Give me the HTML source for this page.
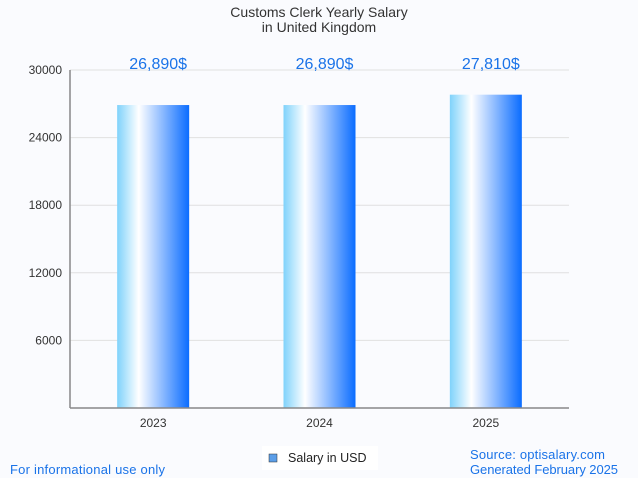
<!DOCTYPE html>
<html><head><meta charset="utf-8"><style>
body{margin:0;background:#fafbfe;font-family:"Liberation Sans",sans-serif;}
svg{display:block}
</style></head><body>
<svg id="c" width="638" height="478" xmlns="http://www.w3.org/2000/svg">
<defs>
<linearGradient id="g" x1="0" x2="1" y1="0" y2="0">
<stop offset="0" stop-color="#7fd2fb"/>
<stop offset="0.3" stop-color="#ffffff"/>
<stop offset="1" stop-color="#0a6cff"/>
</linearGradient>
</defs>
<rect width="638" height="478" fill="#fafbfe"/>
<text x="319" y="17" text-anchor="middle" font-size="14" fill="#333">Customs Clerk Yearly Salary</text>
<text x="319" y="32" text-anchor="middle" font-size="14" fill="#333">in United Kingdom</text>
<g id="grid"></g>
<g id="bars"></g>
<line x1="70" y1="70" x2="70" y2="408" stroke="#888" stroke-width="1.5"/>
<line x1="70" y1="408" x2="569" y2="408" stroke="#888" stroke-width="1.5"/>
<g>
<rect x="262" y="446" width="116" height="24" fill="#fff"/>
<rect x="269" y="454" width="8" height="8" fill="#5b9ee8" stroke="#333" stroke-width="0.5"/>
<text x="288" y="462" font-size="12.5" fill="#222">Salary in USD</text>
</g>
<text x="10" y="474" font-size="13" textLength="155" fill="#1a73e8">For informational use only</text>
<text x="470" y="459" font-size="13" textLength="135" fill="#1a73e8">Source: optisalary.com</text>
<text x="470" y="474" font-size="13" textLength="148" fill="#1a73e8">Generated February 2025</text>
</svg>
<script>
const categories=["2023","2024","2025"];
const values=[26890,26890,27810];
const valueLabels=["26,890$","26,890$","27,810$"];
const yTicks=[6000,12000,18000,24000,30000];
const NS="http://www.w3.org/2000/svg";
const x0=70,x1=569,yTop=70,yBot=408,yMax=30000;
const y=v=>yBot-(v/yMax)*(yBot-yTop);
const band=(x1-x0)/categories.length;
const xc=i=>x0+band*(i+0.5);
function mk(t,a,p){const e=document.createElementNS(NS,t);for(const k in a)e.setAttribute(k,a[k]);p.appendChild(e);return e;}
const grid=document.getElementById('grid'),bars=document.getElementById('bars');
yTicks.forEach(t=>{
 const l=mk('line',{x1:x0,x2:x1,y1:y(t),y2:y(t),stroke:'#e0e0e0'},grid);
 
 
 const tx=mk('text',{x:x0-8,y:y(t)+4,'text-anchor':'end','font-size':12,fill:'#333'},grid);
 tx.textContent=t;
 
 
});
categories.forEach((c,i)=>{
 const w=72;
 const r=mk('rect',{x:xc(i)-w/2,y:y(values[i]),width:w,height:yBot-y(values[i]),fill:'url(#g)'},bars);
 
 
 const v=mk('text',{x:xc(i)+5,y:y(30000)-1,'text-anchor':'middle','font-size':16,fill:'#1a73e8'},bars);
 v.textContent=valueLabels[i];
 
 
 const tl=mk('text',{x:xc(i),y:yBot+19,'text-anchor':'middle','font-size':12,fill:'#333'},bars);
 tl.textContent=c;
 
 
});
</script>
</body></html>
